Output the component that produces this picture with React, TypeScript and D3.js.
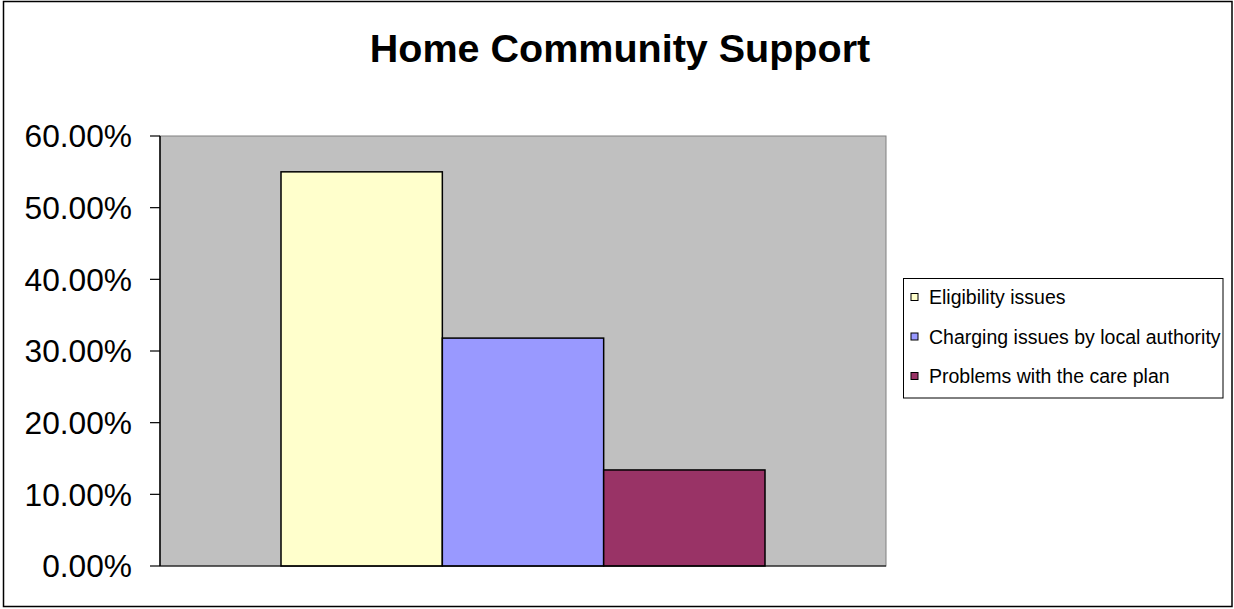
import React from "react";
import * as d3 from "d3";

const categories = ["Eligibility issues", "Charging issues by local authority", "Problems with the care plan"];
const values = [0.55, 0.318, 0.134];
const colors = ["#FFFFCC", "#9999FF", "#993366"];
const yTicks = [0, 0.1, 0.2, 0.3, 0.4, 0.5, 0.6];
const title = "Home Community Support";

export default function App() {
  const W = 1234, H = 609;
  const plot = { left: 160, right: 886, top: 136, bottom: 566 };
  const y = d3.scaleLinear().domain([0, 0.6]).range([plot.bottom, plot.top]);
  const group = d3.scaleBand().domain(["g"]).range([plot.left, plot.right]).paddingInner(0).paddingOuter(0.25);
  const inner = d3.scaleBand().domain(categories).range([0, group.bandwidth()]);
  const gx = group("g") as number;
  const fmt = d3.format(".2%");
  const font = "Liberation Sans, Arial, sans-serif";
  return (
    <svg width={W} height={H} style={{ position: "absolute", left: 0, top: 0, display: "block" }} fontFamily={font}>
      <rect x={0} y={0} width={W} height={H} fill="#fff" />
      <rect x={3.5} y={1.5} width={1228.5} height={605} fill="none" stroke="#000" strokeWidth={1.5} />
      <text x={620} y={62} textAnchor="middle" fontSize={39.5} fontWeight="bold">{title}</text>
      <rect x={plot.left} y={plot.top} width={plot.right - plot.left} height={plot.bottom - plot.top} fill="#C0C0C0" stroke="#808080" strokeWidth={1} />
      {categories.map((c, i) => (
        <rect key={c} x={gx + (inner(c) as number)} y={y(values[i])} width={inner.bandwidth()} height={y(0) - y(values[i])}
          fill={colors[i]} stroke="#000" strokeWidth={1.5} />
      ))}
      <line x1={plot.left} x2={plot.left} y1={plot.top} y2={plot.bottom} stroke="#000" strokeWidth={1.5} />
      <line x1={plot.left} x2={plot.right} y1={plot.bottom} y2={plot.bottom} stroke="#000" strokeWidth={1.2} />
      {yTicks.map((t) => (
        <g key={t}>
          <line x1={plot.left - 10} x2={plot.left} y1={y(t)} y2={y(t)} stroke="#000" strokeWidth={1.2} />
          <text x={132} y={y(t)} dy="0.36em" textAnchor="end" fontSize={31.7}>{fmt(t)}</text>
        </g>
      ))}
      <rect x={903.5} y={278.5} width={319.5} height={119.5} fill="#fff" stroke="#000" strokeWidth={1} />
      {categories.map((c, i) => (
        <g key={c}>
          <rect x={911} y={297 + i * 39.5 - 3.5} width={7} height={7} fill={colors[i]} stroke="#000" strokeWidth={1} />
          <text x={929} y={297 + i * 39.5} dy="0.36em" fontSize={19.5}>{c}</text>
        </g>
      ))}
    </svg>
  );
}
